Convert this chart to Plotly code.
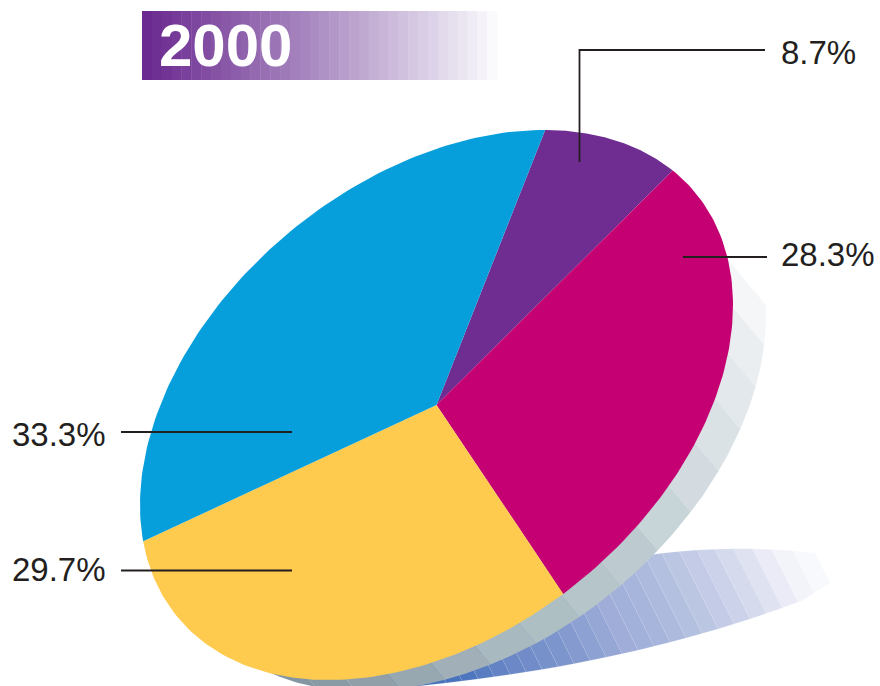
import numpy as np
import plotly.graph_objects as go

# ---- data ----
categories = ["Purple", "Magenta", "Yellow", "Blue"]
values = [8.7, 28.3, 29.7, 33.3]
labels = ["8.7%", "28.3%", "29.7%", "33.3%"]
colors = ["#6f2c91", "#c40072", "#ffcb4f", "#079fdb"]
title_text = "2000"

# ---- tilted-disc projection (pixel axes, y down) ----
CX, CY = 436.5, 405.0
AX, BX, BY = 296.5, -100.0, 256.2
START_DEG = -68.5


def project(t_deg, sx=0.0, sy=0.0):
    t = np.radians(t_deg)
    return (CX + sx + AX * np.cos(t), CY + sy + BX * np.cos(t) + BY * np.sin(t))


def ramp(stops, f):
    pos = [s[0] for s in stops]
    vals = [tuple(int(s[1][j:j + 2], 16) for j in (1, 3, 5)) for s in stops]
    return "rgb(%d,%d,%d)" % tuple(
        round(np.interp(f, pos, [v[k] for v in vals])) for k in range(3))


fig = go.Figure()


def poly(xs, ys, color, line=None):
    fig.add_trace(go.Scatter(
        x=list(xs), y=list(ys), mode="lines", fill="toself", fillcolor=color,
        line=dict(width=line[1], color=line[0]) if line else dict(width=0),
        hoverinfo="skip", showlegend=False))


# ---- blue floor shadow ----
bottom_x = [830, 803, 743, 683, 603, 557, 473, 413, 380]
bottom_y = [583, 600, 622, 638, 658, 667, 680, 686, 690]
top_c = np.polyfit([648, 760, 815], [555, 549, 553], 2)
bot_c = np.polyfit(bottom_x[1:], bottom_y[1:], 3)
bot_p = lambda x: np.where(x > 803, np.interp(x, [803, 830], [600, 583]), np.polyval(bot_c, x))
blue_ramp = [(0, "#f8f9fc"), (0.04, "#f3f4fa"), (0.12, "#dde0f0"), (0.21, "#c5cde8"),
             (0.29, "#b5c1e0"), (0.38, "#a5b3da"), (0.45, "#9eadd8"), (0.53, "#8a9fd1"),
             (0.6, "#7b94cc"), (0.72, "#6a86c6"), (0.83, "#4a74bd"), (1, "#4070b8")]


def top_of(x0):
    y0 = bot_p(x0)
    s = np.linspace(0, 120, 481)
    xs = x0 - s * 0.5
    ys = y0 - s
    k = np.argmax(ys <= np.polyval(top_c, xs))
    return xs[k], ys[k]


seams = np.arange(830, 380, -16.0)
n = len(seams) - 1
for i in range(n):
    col = ramp(blue_ramp, i / (n - 1))
    xb = np.linspace(seams[i], seams[i + 1], 6)
    yb = bot_p(xb)
    xt0, yt0 = top_of(seams[i])
    xt1, yt1 = top_of(seams[i + 1])
    xt = np.linspace(xt1, xt0, 6)
    yt = np.polyval(top_c, xt)
    poly(np.r_[xb, xt], np.r_[yb, yt], col, ("rgba(255,255,255,0.3)", 0.5))

# ---- grey extrusion band ----
SX, SY = 33.0, 11.0
band_t = np.linspace(-2.5, 139, 17)
dirx, diry = 0.64, 0.77
grey_ramp = [(0, "#f5f6f8"), (0.067, "#ebeef0"), (0.133, "#e3e8ec"), (0.2, "#dbe2e6"),
             (0.27, "#d3dbe0"), (0.33, "#c8d4d8"), (0.4, "#bdcbd0"), (0.47, "#b5c5ca"),
             (0.53, "#aebfc4"), (0.6, "#a9b9c0"), (0.8, "#909fa8"), (1, "#7c929d")]
for i in range(len(band_t) - 1):
    col = ramp(grey_ramp, i / (len(band_t) - 2))
    tt = np.linspace(band_t[i], band_t[i + 1], 10)
    ox, oy = project(tt, SX, SY)
    ix = ox[::-1] - 60 * dirx
    iy = oy[::-1] - 60 * diry
    poly(np.r_[ox, ix], np.r_[oy, iy], col)

# ---- pie slices, from the values ----
total = sum(values)
a0 = START_DEG
for v, c in zip(values, colors):
    a1 = a0 + v / total * 360
    tt = np.linspace(a0, a1, 100)
    x, y = project(tt)
    poly(np.r_[CX, x, CX], np.r_[CY, y, CY], c)
    a0 = a1

# ---- leader lines ----
leaders = [([579.5, 579.5, 765], [162, 50, 50]),
           ([683, 767], [257, 257]),
           ([121, 292], [432, 432]),
           ([121, 292], [570.5, 570.5])]
for lx, ly in leaders:
    fig.add_trace(go.Scatter(x=lx, y=ly, mode="lines", hoverinfo="skip", showlegend=False,
                             line=dict(color="#231f20", width=1.8)))

# ---- title strip ----
steps = np.linspace(142, 497, 37)
strip_ramp = [(0, "#6b2a90"), (0.5, "#ac8ec3"), (0.9, "#e8e2f0"), (1, "#fafafc")]
shapes = []
for i in range(len(steps) - 1):
    shapes.append(dict(type="rect", xref="x", yref="y", layer="below",
                       x0=steps[i], x1=steps[i + 1] + 0.4, y0=11, y1=80, line_width=0,
                       fillcolor=ramp(strip_ramp, i / (len(steps) - 2))))

FONT = "Liberation Sans"
ann = [dict(x=157, y=45, text="<b>%s</b>" % title_text, xanchor="left", yanchor="middle",
            showarrow=False, font=dict(family=FONT, size=60, color="white"))]
label_pos = [(779, 52, labels[0]), (779, 254, labels[1]), (10, 569, labels[2]), (10, 434, labels[3])]
for lx, ly, t in label_pos:
    ann.append(dict(x=lx, y=ly, text=t, xanchor="left", yanchor="middle", showarrow=False,
                    font=dict(family=FONT, size=33, color="#231f20")))

fig.update_layout(
    width=880, height=686, margin=dict(l=0, r=0, t=0, b=0),
    paper_bgcolor="white", plot_bgcolor="white", showlegend=False,
    xaxis=dict(range=[0, 880], visible=False, fixedrange=True),
    yaxis=dict(range=[686, 0], visible=False, fixedrange=True),
    shapes=shapes, annotations=ann)
fig.write_html("out.html", config={"displayModeBar": False},
               post_script="document.body.style.margin='0';document.documentElement.style.overflow='hidden';")
